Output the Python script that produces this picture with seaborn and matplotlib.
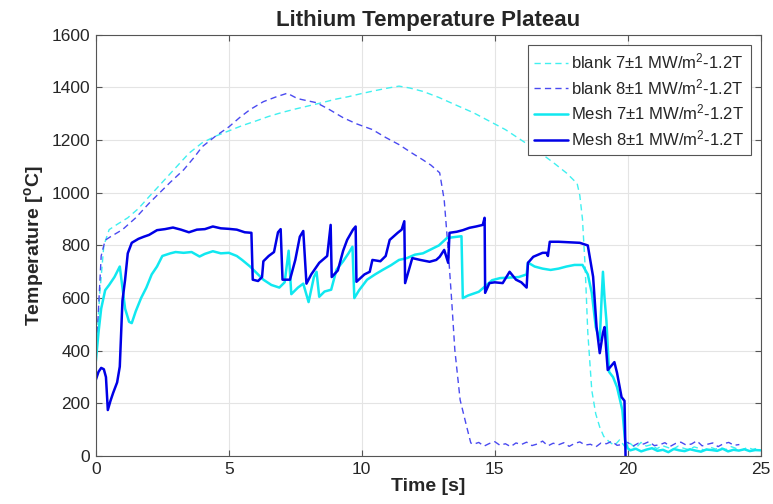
import numpy as np
import pandas as pd
import seaborn as sns
import matplotlib.pyplot as plt

# blank 7 MW/m2 (dashed cyan)
blank7_t = [0.0, 0.15, 0.3, 0.5, 0.8, 1.2, 1.6, 2.0, 2.5, 3.0, 3.5, 4.0, 4.5, 5.0, 5.5,
            6.0, 6.5, 7.0, 7.5, 8.0, 8.5, 9.0, 9.5, 10.0, 10.5, 11.0, 11.4, 11.8, 12.3,
            12.9, 13.5, 14.2, 14.8, 15.4, 16.0, 16.6, 17.2, 17.7, 18.1, 18.2, 18.3, 18.4,
            18.5, 18.65, 18.8, 18.95, 19.1]
blank7_T = [380, 620, 800, 860, 880, 905, 940, 985, 1040, 1095, 1150, 1190, 1215, 1235, 1255,
            1272, 1290, 1305, 1318, 1330, 1342, 1355, 1365, 1377, 1388, 1398, 1405, 1398, 1385,
            1362, 1335, 1304, 1272, 1240, 1200, 1160, 1115, 1075, 1035, 990, 900, 720,
            470, 250, 160, 110, 75]
blank7_tail = [55, 40, 62, 35, 48, 30, 52, 38, 44, 28, 40, 33, 26, 38, 30, 24, 35, 29, 22, 34,
               27, 31, 25, 36, 28, 23, 33, 26, 30]

# blank 8 MW/m2 (dashed blue)
blank8_t = [0.0, 0.1, 0.2, 0.35, 0.55, 1.0, 1.5, 2.0, 2.4, 2.8, 3.3, 3.7, 4.0, 4.5, 5.0,
            5.4, 5.8, 6.3, 6.8, 7.2, 7.5, 7.7, 8.3, 8.8, 9.3, 9.8, 10.4, 10.9, 11.4, 11.9,
            12.3, 12.6, 12.93, 13.1, 13.25, 13.38, 13.5, 13.7, 13.95, 14.1]
blank8_T = [350, 560, 760, 820, 833, 860, 905, 960, 1000, 1040, 1087, 1135, 1175, 1215, 1250,
            1285, 1316, 1346, 1365, 1378, 1362, 1355, 1342, 1315, 1285, 1262, 1240, 1210,
            1183, 1150, 1125, 1105, 1076, 973, 783, 593, 403, 213, 110, 50]
blank8_tail = [45, 52, 38, 48, 55, 41, 47, 36, 50, 44, 53, 40, 46, 57, 39, 49, 43, 51, 37, 48,
               54, 42, 45, 35, 50, 47, 56, 41, 44, 52, 38, 49, 46, 55, 40, 43, 51, 37, 48, 53,
               42, 46, 58, 39, 45, 50, 36, 47, 52, 41, 44]

# Mesh 7 MW/m2 (solid cyan)
mesh7_t = [0.0, 0.1, 0.2, 0.35, 0.5, 0.7, 0.9, 1.0, 1.1, 1.25, 1.35, 1.5, 1.7, 1.9, 2.1,
           2.3, 2.5, 2.8, 3.0, 3.3, 3.6, 3.9, 4.1, 4.4, 4.7, 5.0, 5.3, 5.5, 5.8, 6.0, 6.3,
           6.6, 6.9, 7.1, 7.25, 7.35, 7.6, 7.8, 8.0, 8.2, 8.3, 8.4, 8.6, 8.85, 9.05, 9.3,
           9.5, 9.65, 9.72, 9.9, 10.2, 10.5, 10.8, 11.1, 11.4, 11.7, 12.0, 12.3, 12.6, 12.9,
           13.2, 13.5, 13.75, 13.8, 14.0, 14.4, 14.7, 14.9, 15.2, 15.55, 15.9, 16.2, 16.25,
           16.5, 16.8, 17.1, 17.4, 17.7, 18.0, 18.3, 18.5, 18.65, 18.8, 18.95, 19.02, 19.07,
           19.13, 19.2, 19.3, 19.45, 19.6, 19.8, 19.9, 20.0]
mesh7_T = [360, 470, 560, 630, 650, 680, 720, 640, 560, 510, 505, 550, 600, 640, 690,
           720, 760, 770, 775, 772, 775, 758, 768, 778, 770, 772, 760, 745, 720, 700, 670,
           650, 640, 660, 780, 615, 640, 655, 585, 680, 700, 605, 625, 632, 708, 740,
           770, 795, 600, 630, 670, 690, 708, 725, 745, 752, 765, 770, 785, 800,
           828, 832, 835, 600, 610, 624, 650, 668, 676, 678, 680, 690, 735,
           720, 712, 707, 712, 720, 726, 726, 690, 620, 490, 440, 600, 700,
           600, 515, 320, 300, 262, 175, 60, 30]
mesh7_tail = [22, 28, 18, 25, 30, 20, 24, 15, 27, 22, 19, 26, 21, 17, 25, 23, 20, 28, 18,
              24, 21, 26, 19, 23, 22]

# Mesh 8 MW/m2 (solid blue)
mesh8_t = [0.0, 0.1, 0.2, 0.3, 0.38, 0.45, 0.55, 0.65, 0.8, 0.9, 1.0, 1.1, 1.15, 1.2, 1.35,
           1.6, 1.8, 2.0, 2.3, 2.6, 2.9, 3.2, 3.5, 3.8, 4.1, 4.4, 4.7, 5.0, 5.3, 5.6, 5.85,
           5.9, 6.1, 6.25, 6.3, 6.5, 6.7, 6.85, 6.95, 7.02, 7.3, 7.5, 7.67, 7.8, 7.92, 8.1,
           8.4, 8.7, 8.83, 8.87, 9.1, 9.3, 9.45, 9.67, 9.77, 9.8, 10.1, 10.3, 10.4, 10.7,
           10.9, 11.05, 11.35, 11.5, 11.6, 11.63, 11.9, 12.2, 12.55, 12.8, 12.93, 13.1, 13.25,
           13.3, 13.57, 13.8, 14.05, 14.3, 14.55, 14.62, 14.64, 14.8, 15.0, 15.3, 15.56, 15.8,
           16.0, 16.2, 16.25, 16.45, 16.8, 16.95, 17.0, 17.07, 17.4, 17.8, 18.2, 18.5, 18.7,
           18.83, 18.95, 19.07, 19.13, 19.25, 19.5, 19.6, 19.77, 19.88, 19.92]
mesh8_T = [290, 320, 335, 330, 300, 175, 210, 240, 280, 340, 590, 670, 720, 770, 810,
           825, 833, 840, 858, 862, 868, 860, 850, 860, 862, 872, 865, 863, 860, 850, 848,
           670, 665, 680, 740, 760, 775, 850, 862, 670, 670, 745, 833, 855, 655, 690,
           734, 760, 878, 680, 705, 780, 821, 860, 872, 662, 690, 700, 745, 740,
           760, 821, 848, 860, 892, 657, 752, 745, 738, 745, 757, 783, 734,
           848, 852, 858, 867, 872, 878, 905, 620, 657, 660, 657, 700, 670,
           660, 640, 734, 757, 772, 772, 760, 814, 814, 812, 810, 800, 681,
           490, 391, 468, 490, 327, 357, 316, 224, 210, 0]

labels = ['blank 7$\\pm$1 MW/m$^{2}$-1.2T', 'blank 8$\\pm$1 MW/m$^{2}$-1.2T',
          'Mesh 7$\\pm$1 MW/m$^{2}$-1.2T', 'Mesh 8$\\pm$1 MW/m$^{2}$-1.2T']

b7 = pd.DataFrame({'t': blank7_t + list(np.linspace(19.3, 24.9, len(blank7_tail))),
                   'T': blank7_T + blank7_tail})
b8 = pd.DataFrame({'t': blank8_t + list(np.linspace(14.2, 24.2, len(blank8_tail))),
                   'T': blank8_T + blank8_tail})
m7 = pd.DataFrame({'t': mesh7_t + list(np.linspace(20.1, 25.0, len(mesh7_tail))),
                   'T': mesh7_T + mesh7_tail})
m8 = pd.DataFrame({'t': mesh8_t, 'T': mesh8_T})

sns.set_theme(style='whitegrid')
plt.rcParams['font.family'] = ['Liberation Sans', 'DejaVu Sans']
plt.rcParams['mathtext.default'] = 'regular'

fig, ax = plt.subplots(figsize=(7.73, 5.04), dpi=100)
fig.subplots_adjust(left=0.124, right=0.984, bottom=0.095, top=0.931)

sns.lineplot(data=b7, x='t', y='T', ax=ax, sort=False, estimator=None, color='#40f0f0',
             lw=1.0, dashes=False, label=labels[0]).lines[-1].set_dashes((4.5, 3))
sns.lineplot(data=b8, x='t', y='T', ax=ax, sort=False, estimator=None, color='#4a4af0',
             lw=1.0, label=labels[1]).lines[-1].set_dashes((4.5, 3))
sns.lineplot(data=m7, x='t', y='T', ax=ax, sort=False, estimator=None, color='#10e8f0',
             lw=1.8, label=labels[2])
sns.lineplot(data=m8, x='t', y='T', ax=ax, sort=False, estimator=None, color='#0000e6',
             lw=1.8, label=labels[3])

ax.set_xlim(0, 25)
ax.set_ylim(0, 1600)
ax.set_xticks(range(0, 26, 5))
ax.set_yticks(range(0, 1601, 200))
ax.grid(True, color='#e4e4e4', lw=0.8)
for s in ax.spines.values():
    s.set_color('#555555')
    s.set_linewidth(0.8)
ax.tick_params(direction='in', length=4, width=0.8, color='#555555', labelsize=12.5,
               labelcolor='#262626', top=True, right=True, bottom=True, left=True, pad=4)

ax.set_title('Lithium Temperature Plateau', fontsize=16, fontweight='bold', pad=6)
ax.set_xlabel('Time [s]', fontsize=14, fontweight='bold', labelpad=1)
ax.set_ylabel('Temperature [$^{o}$C]', fontsize=14, fontweight='bold', labelpad=4)

leg = ax.legend(loc='upper right', fontsize=12, frameon=True, fancybox=False,
                edgecolor='#555555', framealpha=1, handlelength=2.0, handletextpad=0.2,
                borderpad=0.4, labelspacing=0.35, borderaxespad=0.6)
leg.get_frame().set_linewidth(0.8)
for txt in leg.get_texts():
    txt.set_color('#262626')

fig.savefig('out.png', dpi=100)
